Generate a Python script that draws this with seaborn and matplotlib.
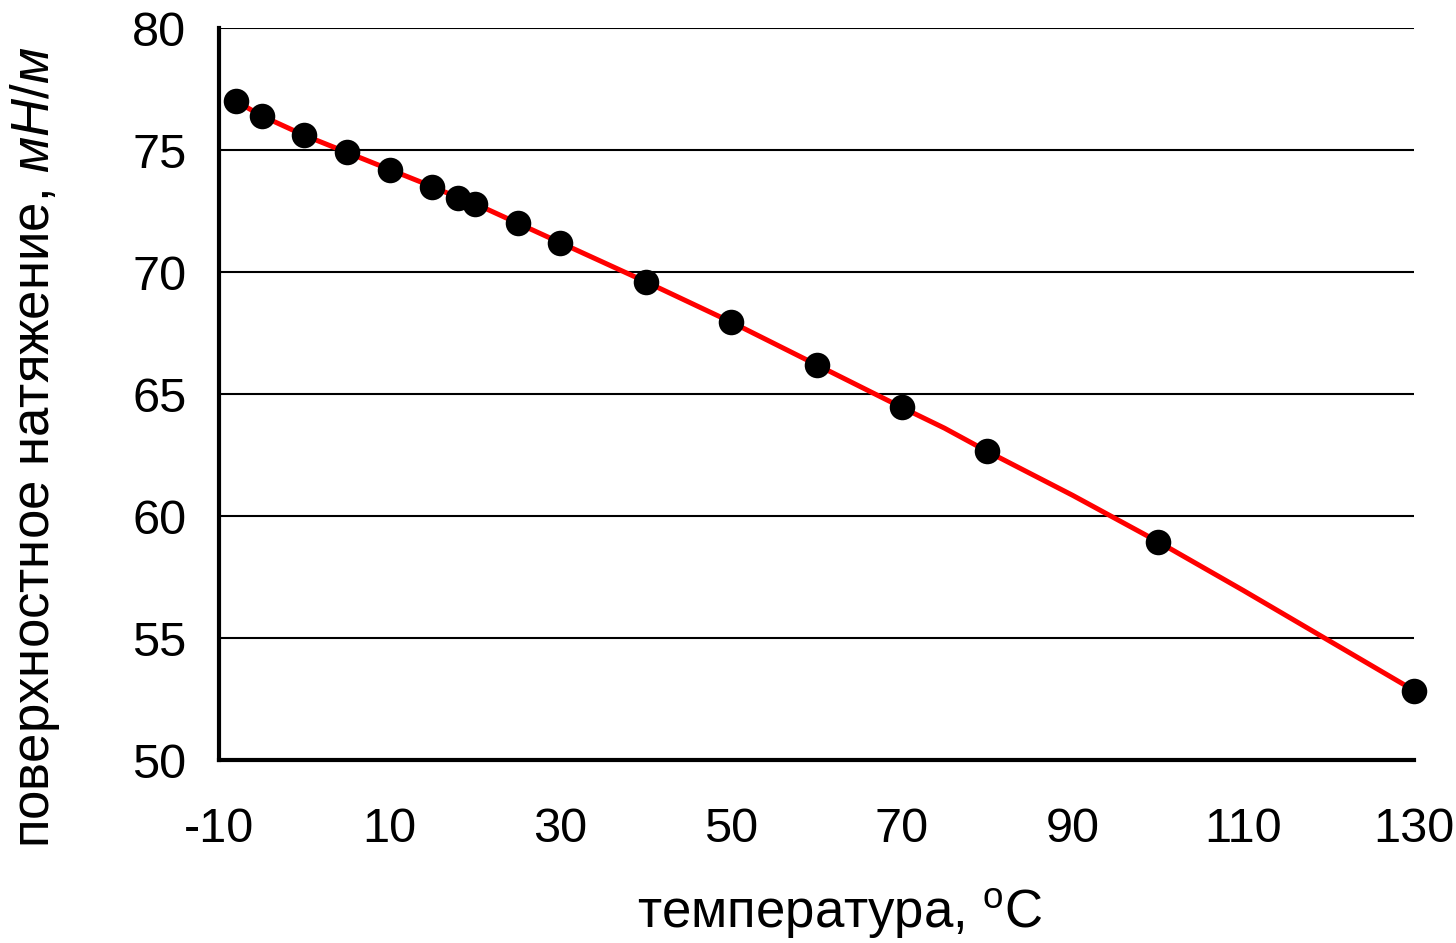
import matplotlib
matplotlib.use("Agg")
import matplotlib.pyplot as plt
import seaborn as sns
import pandas as pd

# measured points (temperature, surface tension)
temp = [-8, -5, 0, 5, 10, 15, 18, 20, 25, 30, 40, 50, 60, 70, 80, 100, 130]
sigma = [77.0, 76.4, 75.6, 74.9, 74.2, 73.5, 73.05, 72.8, 72.0, 71.2,
         69.6, 67.95, 66.2, 64.45, 62.65, 58.95, 52.85]

# smoothed curve
line_temp = [-8, -5, 0, 5, 10, 15, 18, 20, 25, 30, 40, 50, 60, 70, 75,
             80, 90, 100, 110, 120, 130]
line_sigma = [77.0, 76.4, 75.6, 74.9, 74.2, 73.5, 73.05, 72.8, 72.0, 71.2,
              69.6, 67.95, 66.2, 64.45, 63.6, 62.65, 60.85, 58.95, 56.95,
              54.9, 52.85]

xticks = [-10, 10, 30, 50, 70, 90, 110, 130]
yticks = [50, 55, 60, 65, 70, 75, 80]

sns.set_style("white")
plt.rcParams['font.family'] = ['Liberation Sans', 'DejaVu Sans']
plt.rcParams['mathtext.fontset'] = 'custom'
plt.rcParams['mathtext.rm'] = 'Liberation Sans'
plt.rcParams['mathtext.it'] = 'Liberation Sans:italic'
plt.rcParams['axes.unicode_minus'] = False

points = pd.DataFrame({'t': temp, 's': sigma})
curve = pd.DataFrame({'t': line_temp, 's': line_sigma})

fig = plt.figure(figsize=(14.56, 9.43), dpi=100)
ax = fig.add_axes([0.1504, 0.194, 0.8208, 0.7763])

for y in yticks[1:]:
    ax.axhline(y, color='black', lw=1.5, zorder=1)

sns.lineplot(data=curve, x='t', y='s', color='#ff0000', lw=3.6,
             ax=ax, zorder=2)
sns.scatterplot(data=points, x='t', y='s', color='black', s=290,
                edgecolor='black', ax=ax, zorder=3, clip_on=False)

ax.set_xlim(-10, 130)
ax.set_ylim(50, 80)
ax.set_xticks(xticks)
ax.set_yticks(yticks)
ax.tick_params(axis='both', direction='out', length=9.5, width=3,
               labelsize=35, colors='black')
ax.tick_params(axis='y', pad=14)
ax.tick_params(axis='x', pad=24)
for side in ['top', 'right']:
    ax.spines[side].set_visible(False)
for side in ['left', 'bottom']:
    ax.spines[side].set_linewidth(3)
    ax.spines[side].set_color('black')

ax.set_xlabel(r"температура, $^{\mathrm{o}}$C", fontsize=38, color='black')
ax.set_ylabel(r"поверхностное натяжение, $\mathit{мН/м}$", fontsize=38,
              color='black')
ax.xaxis.set_label_coords(0.519, -0.172)
ax.yaxis.set_label_coords(-0.131, 0.428)

fig.savefig("out.png", dpi=100, facecolor='white')
